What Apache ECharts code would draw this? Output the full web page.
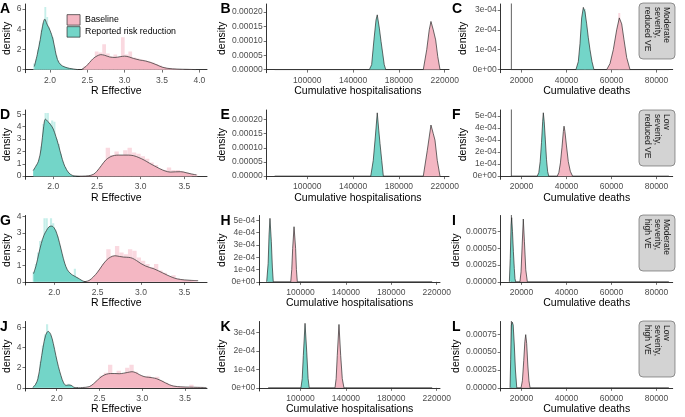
<!DOCTYPE html>
<html><head><meta charset="utf-8">
<script src="https://cdn.jsdelivr.net/npm/echarts@6/dist/echarts.min.js"></script>
<style>html,body{margin:0;padding:0;background:#fff}#c{width:685px;height:417px}</style>
</head><body><div id="c"></div>
<script>
// ---------------- DATA ----------------
const seriesNames = ['Baseline', 'Reported risk reduction'];
const scenarioLabels = [['Moderate','severity,','reduced VE'],['Low','severity,','reduced VE'],['Moderate','severity,','high VE'],['Low','severity,','high VE']];
const panelLetters = ['A','B','C','D','E','F','G','H','I','J','K','L'];
const xTitles = ['R Effective','Cumulative hospitalisations','Cumulative deaths'];

// tick values / labels
const xTicksA = [2.0,2.5,3.0,3.5,4.0]; const xLabelsA = ['2.0','2.5','3.0','3.5','4.0'];
const xTicksR = [2.0,2.5,3.0,3.5];     const xLabelsR = ['2.0','2.5','3.0','3.5'];
const xTicksHosp = [100000,140000,180000,220000]; const xLabelsHosp = ['100000','140000','180000','220000'];
const xTicksDeath = [20000,40000,60000,80000];    const xLabelsDeath = ['20000','40000','60000','80000'];
const yTicksA = [0,2,4,6];       const yLabelsA = ['0','2','4','6'];
const yTicksD = [0,1,2,3,4,5];   const yLabelsD = ['0','1','2','3','4','5'];
const yTicksG = [0,1,2,3,4];     const yLabelsG = ['0','1','2','3','4'];
const yTicksJ = [0,2,4,6];       const yLabelsJ = ['0','2','4','6'];
const yTicksBE = [0,0.00005,0.0001,0.00015,0.0002]; const yLabelsBE = ['0.00000','0.00005','0.00010','0.00015','0.00020'];
const yTicksC = [0,0.0001,0.0002,0.0003]; const yLabelsC = ['0e+00','1e-04','2e-04','3e-04'];
const yTicksF = [0,0.0001,0.0002,0.0003,0.0004,0.0005]; const yLabelsF = ['0e+00','1e-04','2e-04','3e-04','4e-04','5e-04'];
const yTicksH = yTicksF; const yLabelsH = yLabelsF;
const yTicksK = yTicksC; const yLabelsK = yLabelsC;
const yTicksI = [0,0.00025,0.0005,0.00075,0.001]; const yLabelsI = ['0.00000','0.00025','0.00050','0.00075','0.00100'];
const yTicksL = [0,0.00025,0.0005,0.00075]; const yLabelsL = ['0.00000','0.00025','0.00050','0.00075'];

// R effective densities
const densA_base = [[2.42,0],[2.48,0.3],[2.53,0.7],[2.58,1.1],[2.63,1.35],[2.68,1.48],[2.73,1.42],[2.8,1.25],[2.87,1.2],[2.94,1.28],[3.0,1.33],[3.06,1.25],[3.12,1.1],[3.2,0.95],[3.28,0.85],[3.35,0.7],[3.42,0.5],[3.5,0.25],[3.58,0.12],[3.7,0.05],[3.85,0.02],[3.95,0.0]];
const densA_red = [[1.79,0.3],[1.83,1.5],[1.87,3.0],[1.9,4.3],[1.93,5.0],[1.96,4.5],[2.0,3.9],[2.04,3.0],[2.07,1.9],[2.1,1.0],[2.14,0.5],[2.2,0.25],[2.26,0.12],[2.32,0.05],[2.37,0.0]];
const densD_base = [[2.3,0],[2.4,0.03],[2.46,0.15],[2.5,0.4],[2.55,0.85],[2.6,1.3],[2.65,1.55],[2.7,1.67],[2.75,1.7],[2.8,1.7],[2.86,1.7],[2.92,1.65],[2.98,1.5],[3.04,1.3],[3.1,1.05],[3.16,0.82],[3.22,0.6],[3.28,0.42],[3.34,0.33],[3.4,0.35],[3.46,0.36],[3.52,0.28],[3.58,0.18],[3.64,0.1]];
const densD_red = [[1.77,0.45],[1.8,0.8],[1.83,1.2],[1.86,2.2],[1.89,4.0],[1.91,4.6],[1.94,4.4],[1.97,4.15],[2.0,3.8],[2.03,3.2],[2.06,2.5],[2.09,1.7],[2.12,1.0],[2.15,0.55],[2.18,0.25],[2.22,0.06],[2.3,0.0]];
const densG_base = [[2.34,0],[2.4,0.08],[2.45,0.3],[2.5,0.6],[2.55,0.98],[2.6,1.32],[2.65,1.52],[2.7,1.6],[2.75,1.56],[2.8,1.52],[2.86,1.5],[2.9,1.45],[2.95,1.3],[3.0,1.12],[3.05,0.98],[3.1,0.88],[3.15,0.8],[3.2,0.68],[3.25,0.55],[3.3,0.42],[3.36,0.28],[3.42,0.18],[3.5,0.12],[3.58,0.09],[3.66,0.07]];
const densG_red = [[1.76,0.5],[1.79,1.0],[1.82,1.7],[1.85,2.35],[1.88,2.85],[1.91,3.15],[1.94,3.38],[1.97,3.42],[2.0,3.3],[2.03,2.95],[2.06,2.4],[2.09,1.75],[2.12,1.15],[2.15,0.75],[2.18,0.55],[2.21,0.42],[2.25,0.3],[2.29,0.18],[2.33,0.05],[2.37,0.0]];
const densJ_base = [[2.23,0],[2.3,0.03],[2.38,0.12],[2.43,0.4],[2.48,0.8],[2.53,1.15],[2.58,1.35],[2.63,1.42],[2.68,1.42],[2.73,1.4],[2.78,1.45],[2.83,1.53],[2.88,1.6],[2.92,1.52],[2.97,1.3],[3.02,1.12],[3.07,1.05],[3.12,1.0],[3.17,0.9],[3.22,0.72],[3.27,0.5],[3.32,0.3],[3.37,0.17],[3.45,0.1],[3.55,0.07],[3.65,0.05],[3.75,0.03]];
const densJ_red = [[1.72,0.05],[1.75,0.3],[1.78,0.9],[1.81,2.4],[1.84,4.0],[1.87,5.2],[1.9,5.6],[1.93,5.3],[1.96,4.4],[1.99,3.2],[2.02,2.1],[2.05,1.2],[2.08,0.5],[2.11,0.25],[2.14,0.28],[2.17,0.25],[2.2,0.06],[2.25,0.0]];

// R effective histograms (bin start, bin width, heights)
const histA_red  = {x0:1.775, w:0.025, h:[0.6,1.0,2.0,2.8,3.9,4.6,6.2,5.2,4.2,3.6,3.2,2.2,1.4,0.9,0.6,0.35,0.3,0.25,0.2,0.15,0.1,0.05,0.05,0.03]};
const histA_base = {x0:2.45, w:0.05, h:[0.35,0.6,1.0,1.8,1.7,2.5,1.6,1.3,1.5,1.2,3.2,1.5,1.8,1.2,1.1,1.0,0.9,0.8,0.7,0.55,0.4,0.25,0.15,0.1,0.08,0.06,0.05,0.04,0.03,0.02]};
const histD_red  = {x0:1.775, w:0.025, h:[0.5,0.9,1.3,2.4,4.2,5.1,5.1,4.3,4.5,4.4,3.0,2.6,1.8,1.1,0.7,0.4,0.2,0.08]};
const histD_base = {x0:2.5, w:0.05, h:[0.5,0.9,2.3,1.7,2.0,1.6,2.1,2.3,1.9,1.8,1.6,1.4,1.1,0.9,0.6,0.5,0.7,0.5,0.5,0.4,0.3,0.2,0.15]};
const histG_red  = {x0:1.75, w:0.025, h:[0.6,1.1,1.8,2.5,2.6,3.9,3.9,3.3,3.9,3.6,3.2,2.8,2.2,1.6,1.0,0.7,0.55,0.45,0.35,0.8,0.3,0.15,0.08]};
const histG_base = {x0:2.45, w:0.05, h:[0.3,0.7,1.1,2.0,1.6,2.2,1.8,1.7,2.0,1.9,1.5,1.3,1.1,0.9,1.1,0.7,0.55,0.35,0.4,0.2,0.15,0.1,0.08,0.1]};
const histJ_red  = {x0:1.725, w:0.025, h:[0.2,0.5,1.2,2.6,4.2,5.3,6.3,5.4,4.8,3.9,2.8,1.9,1.0,0.5,0.3,0.25,0.4,0.2,0.08]};
const histJ_base = {x0:2.4, w:0.05, h:[0.3,0.7,1.2,1.5,2.3,1.4,1.7,1.3,2.0,2.3,1.6,1.2,1.1,1.2,1.0,1.1,0.7,0.5,0.3,0.2,0.15,0.1,0.08,0.3,0.05,0.05,0.04]};

// hospitalisation densities
const densB_base = [[201300,0],[204300,0.000069],[206500,0.000138],[208000,0.000167],[210000,0.000138],[212100,0.000103],[213900,0.000046],[215900,0]];
const densB_red  = [[154200,0],[156200,0.000017],[158200,0.000103],[160000,0.000172],[161100,0.00019],[162900,0.000144],[164400,0.0000977],[165800,0.0000575],[167200,0.000017],[168500,0]];
const densE_base = [[201300,0],[204800,0.000091],[208000,0.00018],[210000,0.00015],[211500,0.000127],[213500,0.0000557],[215900,0]];
const densE_red  = [[155400,0],[157600,0.0000557],[159400,0.000138],[161100,0.000223],[162400,0.000162],[163500,0.000115],[165000,0.0000557],[166400,0]];
const densH_base = [[91400,0],[92300,0.0001],[93100,0.00027],[94300,0.000447],[95700,0.00027],[96400,0.0001],[97200,0]];
const densH_red  = [[70200,0],[71500,0.00015],[72300,0.00038],[73100,0.000515],[74300,0.000325],[75200,0.00012],[76000,0]];
const densK_base = [[130400,0],[131400,0.00005],[132400,0.000176],[133900,0.000344],[135400,0.000176],[136800,0.00005],[138300,0]];
const densK_red  = [[100400,0],[101500,0.00005],[102500,0.000176],[104000,0.00035],[105500,0.000194],[106700,0.00005],[107700,0]];
const hospZeroLine = [[71500,0],[216000,0]];

// death densities
const densC_base = [[57870,0],[59330,0.00003],[60800,0.0001],[62300,0.0002],[63470,0.00026],[64530,0.00023],[65560,0.00015],[66760,0.00006],[68220,0]];
const densC_red  = [[44200,0],[45250,0.00004],[46000,0.00013],[46740,0.00026],[47480,0.000313],[48220,0.00029],[48960,0.00023],[49700,0.00016],[50440,0.0001],[51330,0.00004],[52200,0]];
const histC_base = {x0:63000, w:900, h:[0.000285]};
const histC_red  = {x0:47700, w:900, h:[0.000305]};
const densF_base = [[35900,0],[36600,0.00003],[37300,0.00011],[38000,0.00024],[38600,0.00037],[38900,0.000414],[39300,0.00037],[40000,0.00025],[40800,0.00012],[41700,0.00004],[42700,0]];
const densF_red  = [[27000,0],[27700,0.00003],[28300,0.00012],[28900,0.00028],[29400,0.00045],[29700,0.000525],[30100,0.00045],[30600,0.0003],[31100,0.00014],[31600,0.00004],[32100,0]];
const densI_base = [[19300,0],[19800,0.00015],[20300,0.00055],[20800,0.00094],[21300,0.0006],[21900,0.00018],[22600,0]];
const densI_red  = [[14600,0],[15000,0.00035],[15400,0.00085],[15640,0.00096],[16000,0.00075],[16400,0.00045],[16800,0.0002],[17100,0.00005],[17400,0]];
const densL_base = [[19800,0],[20400,0.0001],[21000,0.00038],[21500,0.00065],[21870,0.000745],[22300,0.00062],[22800,0.00032],[23300,0.0001],[23800,0]];
const densL_red  = [[14900,0],[15200,0.0004],[15500,0.00088],[15900,0.00092],[16300,0.00088],[16800,0.0006],[17300,0.00025],[17900,0]];
const deathZeroLine = [[15300,0],[85500,0]];
const deathSpike = [[15500,0],[15500,0.01]];

// ---------------- LAYOUT / STYLE ----------------
const FONT = '"Liberation Sans", Arial, Helvetica, sans-serif';
const PINK = '#F4B7C3', TEAL = '#73D5C8', PINK_H = '#FAD9E0', TEAL_H = '#C6EFEA', OUT = '#2b2b2b';
const rows = [[4,72.7],[110,179.3],[215.5,285],[321.5,391]];
const hospX = [64540,223750], hospX2 = [63700,222900], deathX = [10756,87200];

const panels = [
 {row:0,l:25.5,r:207, xr:[1.672,4.103], yr:[-0.31,6.5], xt:xTicksA,xl:xLabelsA, yt:yTicksA,yl:yLabelsA, base:densA_base, red:densA_red, hb:histA_base, hr:histA_red, col:0, yGap:12},
 {row:0,l:266.7,r:449, xr:hospX, yr:[-0.0000108,0.0002276], xt:xTicksHosp,xl:xLabelsHosp, yt:yTicksBE,yl:yLabelsBE, base:densB_base, red:densB_red, zero:hospZeroLine, col:1, yGap:38},
 {row:0,l:500.7,r:672.7, xr:deathX, yr:[-0.0000157,0.00033], xt:xTicksDeath,xl:xLabelsDeath, yt:yTicksC,yl:yLabelsC, base:densC_base, red:densC_red, hb:histC_base, hr:histC_red, zero:deathZeroLine, spike:true, col:2, yGap:31},
 {row:1,l:25.5,r:207, xr:[1.682,3.76], yr:[-0.254,5.34], xt:xTicksR,xl:xLabelsR, yt:yTicksD,yl:yLabelsD, base:densD_base, red:densD_red, hb:histD_base, hr:histD_red, col:0, yGap:12},
 {row:1,l:266.7,r:449, xr:hospX, yr:[-0.0000111,0.000233], xt:xTicksHosp,xl:xLabelsHosp, yt:yTicksBE,yl:yLabelsBE, base:densE_base, red:densE_red, zero:hospZeroLine, col:1, yGap:38},
 {row:1,l:500.7,r:672.7, xr:deathX, yr:[-0.0000261,0.000548], xt:xTicksDeath,xl:xLabelsDeath, yt:yTicksF,yl:yLabelsF, base:densF_base, red:densF_red, zero:deathZeroLine, spike:true, col:2, yGap:31},
 {row:2,l:25.5,r:207, xr:[1.668,3.762], yr:[-0.194,4.07], xt:xTicksR,xl:xLabelsR, yt:yTicksG,yl:yLabelsG, base:densG_base, red:densG_red, hb:histG_base, hr:histG_red, col:0, yGap:12},
 {row:2,l:259.3,r:440, xr:hospX2, yr:[-0.0000256,0.000538], xt:xTicksHosp,xl:xLabelsHosp, yt:yTicksH,yl:yLabelsH, base:densH_base, red:densH_red, zero:hospZeroLine, col:1, yGap:31},
 {row:2,l:500.7,r:672.7, xr:deathX, yr:[-0.0000473,0.000993], xt:xTicksDeath,xl:xLabelsDeath, yt:yTicksI,yl:yLabelsI, base:densI_base, red:densI_red, zero:deathZeroLine, spike:true, col:2, yGap:38},
 {row:3,l:25.5,r:207, xr:[1.635,3.757], yr:[-0.313,6.58], xt:xTicksR,xl:xLabelsR, yt:yTicksJ,yl:yLabelsJ, base:densJ_base, red:densJ_red, hb:histJ_base, hr:histJ_red, col:0, yGap:12},
 {row:3,l:259.3,r:440, xr:hospX2, yr:[-0.0000171,0.00036], xt:xTicksHosp,xl:xLabelsHosp, yt:yTicksK,yl:yLabelsK, base:densK_base, red:densK_red, zero:hospZeroLine, col:1, yGap:31},
 {row:3,l:500.7,r:672.7, xr:deathX, yr:[-0.0000442,0.000929], xt:xTicksDeath,xl:xLabelsDeath, yt:yTicksL,yl:yLabelsL, base:densL_base, red:densL_red, zero:deathZeroLine, spike:true, col:2, yGap:38}
];

function lab(ticks, labels){
  return function(v){ let bi=0, bd=Infinity; ticks.forEach((t,i)=>{const d=Math.abs(t-v); if(d<bd){bd=d;bi=i;}}); return labels[bi]; };
}

const grid=[], xAxis=[], yAxis=[], series=[];
panels.forEach((p,i)=>{
  const [t,b] = rows[p.row];
  grid.push({left:p.l, top:t, width:p.r-p.l, height:b-t, containLabel:false});
  xAxis.push({type:'value', gridIndex:i, min:p.xr[0], max:p.xr[1], splitLine:{show:false},
    axisLine:{show:true, lineStyle:{color:'#000', width:0.8}},
    axisTick:{show:true, customValues:p.xt, length:3, lineStyle:{color:'#333', width:0.7}},
    axisLabel:{customValues:p.xt, formatter:lab(p.xt,p.xl), fontSize:8.5, color:'#4d4d4d', margin:3, fontFamily:FONT, showMinLabel:true, showMaxLabel:true, hideOverlap:false},
    name:xTitles[p.col], nameLocation:'middle', nameGap:13, nameTextStyle:{fontSize:10.5, color:'#000', fontFamily:FONT}});
  yAxis.push({type:'value', gridIndex:i, min:p.yr[0], max:p.yr[1], splitLine:{show:false},
    axisLine:{show:true, lineStyle:{color:'#000', width:0.8}},
    axisTick:{show:true, customValues:p.yt, length:3, lineStyle:{color:'#333', width:0.7}},
    axisLabel:{customValues:p.yt, formatter:lab(p.yt,p.yl), fontSize:8.5, color:'#4d4d4d', margin:4, fontFamily:FONT, showMinLabel:true, showMaxLabel:true, hideOverlap:false},
    name:'density', nameLocation:'middle', nameGap:p.yGap, nameTextStyle:{fontSize:10.5, color:'#000', fontFamily:FONT}});
  const hist = (h, color)=>({type:'custom', xAxisIndex:i, yAxisIndex:i, clip:true, silent:true, z:1,
      encode:{x:[0,1], y:2},
      data:h.h.map((v,k)=>[h.x0+k*h.w, h.x0+(k+1)*h.w, v]),
      renderItem:(pa,api)=>{const a=api.coord([api.value(0),api.value(2)]); const c=api.coord([api.value(1),0]);
        return {type:'rect', shape:{x:a[0], y:a[1], width:c[0]-a[0], height:c[1]-a[1]}, style:{fill:color}};}});
  if(p.hb) series.push(hist(p.hb, PINK_H));
  if(p.hr) series.push(hist(p.hr, TEAL_H));
  const smooth = p.col===0 ? 0.35 : false;
  if(p.zero) series.push({type:'line', xAxisIndex:i, yAxisIndex:i, data:p.zero, symbol:'none', silent:true, z:2, lineStyle:{color:'#3a3a3a', width:0.9}});
  if(p.spike) series.push({type:'line', xAxisIndex:i, yAxisIndex:i, data:deathSpike, symbol:'none', silent:true, z:2, clip:true, lineStyle:{color:'#3a3a3a', width:0.8}});
  const dens = (d, color, name)=>({type:'line', name, xAxisIndex:i, yAxisIndex:i, data:d, symbol:'none', showSymbol:false, smooth, silent:true, z:3,
      lineStyle:{color:OUT, width:0.7}, itemStyle:{color}, areaStyle:{color, opacity:1}});
  series.push(dens(p.base, PINK, seriesNames[0]));
  series.push(dens(p.red, TEAL, seriesNames[1]));
});

const graphic = [];
const letterPos = [[0,2],[220.5,2],[452,2],[0,108],[220.5,108],[452,108],[0,214],[220.5,214],[452,214],[0,320],[220.5,320],[452,320]];
panelLetters.forEach((L,i)=>graphic.push({type:'text', left:letterPos[i][0], top:letterPos[i][1], z:10,
   style:{text:L, font:'bold 14px '+FONT, fill:'#000'}}));
const stripTop = [3,110,215,321];
scenarioLabels.forEach((lines,r)=>{
  graphic.push({type:'rect', shape:{x:639, y:stripTop[r], width:36, height:56, r:4}, z:10,
     style:{fill:'#D3D3D3', stroke:'#555', lineWidth:0.6}});
  graphic.push({type:'text', x:671, y:stripTop[r]+4, rotation:-Math.PI/2, z:11,
     style:{text:lines.join('\n'), font:'8.5px '+FONT, fill:'#1a1a1a', align:'left', verticalAlign:'top', lineHeight:9.3}});
});

const chart = echarts.init(document.getElementById('c'), null, {renderer:'canvas'});
chart.setOption({
  animation:false, backgroundColor:'#fff',
  grid, xAxis, yAxis, series, graphic,
  legend:{show:true, orient:'vertical', left:61.7, top:9.3, itemWidth:13, itemHeight:10.5, itemGap:0.8, icon:'rect', selectedMode:false,
    textStyle:{fontSize:8.8, color:'#000', fontFamily:FONT},
    data:[{name:seriesNames[0], itemStyle:{color:PINK, borderColor:OUT, borderWidth:0.7}},
          {name:seriesNames[1], itemStyle:{color:TEAL, borderColor:OUT, borderWidth:0.7}}]}
});
</script></body></html>
